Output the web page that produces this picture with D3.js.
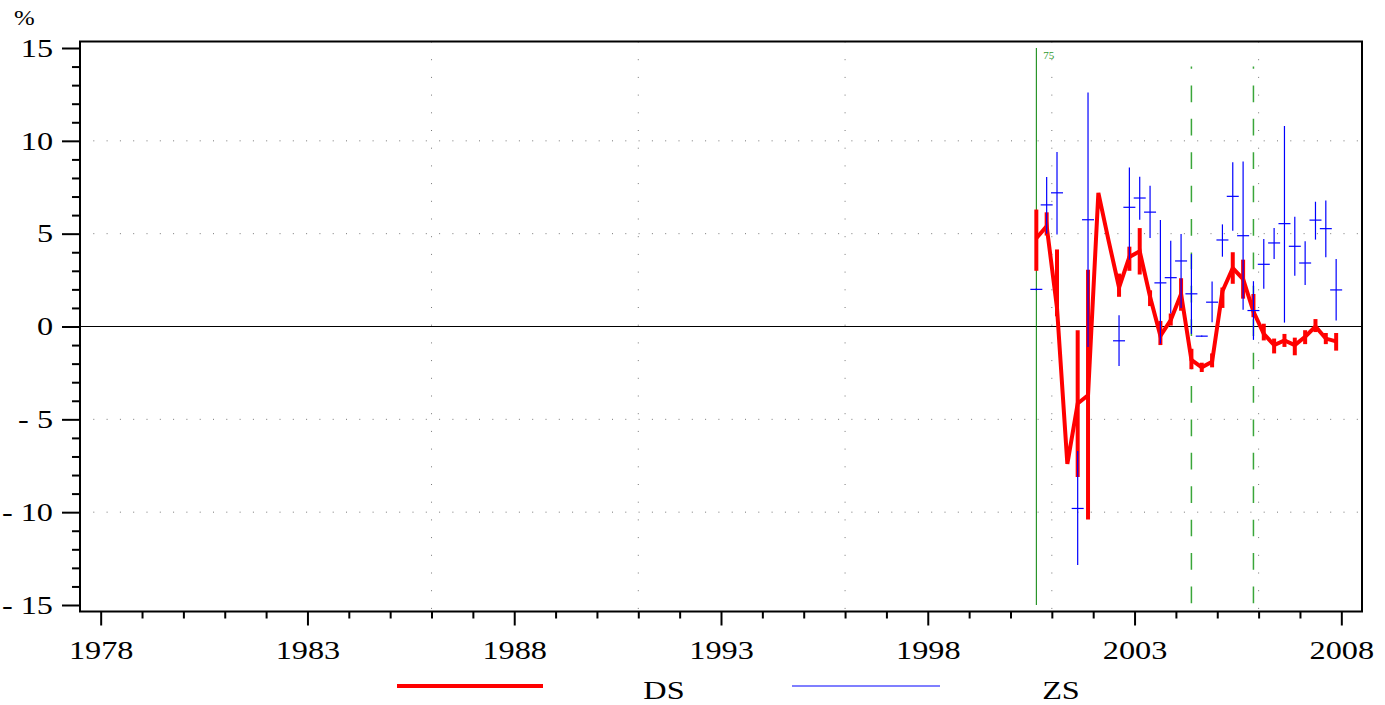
<!DOCTYPE html>
<html><head><meta charset="utf-8">
<script src="https://cdn.jsdelivr.net/npm/d3@7"></script>
<style>body{margin:0;background:#fff}svg{display:block}</style>
</head><body>
<svg id="c" width="1385" height="705"></svg>
<script>
// ---------- data ----------
const periods = ["2000Q3","2000Q4","2001Q1","2001Q2","2001Q3","2001Q4","2002Q1","2002Q2",
  "2002Q3","2002Q4","2003Q1","2003Q2","2003Q3","2003Q4","2004Q1","2004Q2",
  "2004Q3","2004Q4","2005Q1","2005Q2","2005Q3","2005Q4","2006Q1","2006Q2",
  "2006Q3","2006Q4","2007Q1","2007Q2","2007Q3","2007Q4"];
const dsValue = [4.75,5.4,1.0,-7.4,-4.15,-3.7,7.2,4.6,2.1,3.75,4.05,1.6,-0.5,0.35,1.75,-1.8,
  -2.2,-1.9,1.9,3.15,2.55,0.8,-0.4,-1.0,-0.75,-1.0,-0.55,0.0,-0.65,-0.8];
const dsLow = [3.0,4.9,0.55,null,-8.1,-10.4,null,null,1.6,3.0,2.8,1.1,-1.0,0.05,0.85,-2.3,
  -2.45,-2.2,1.0,2.3,1.5,0.5,-0.75,-1.45,-1.1,-1.55,-0.95,-0.3,-0.95,-1.3];
const dsHigh = [6.3,6.15,4.15,null,-0.2,3.05,null,null,2.85,4.3,5.3,1.95,0.3,0.7,2.6,-1.2,
  -1.95,-1.45,2.1,4.0,3.6,1.75,0.15,-0.65,-0.4,-0.6,-0.2,0.4,-0.35,-0.35];
const zsValue = [2.0,6.55,7.2,null,-9.8,5.75,null,null,-0.77,6.42,6.92,6.16,2.35,2.63,3.53,1.76,
  -0.52,1.31,4.66,7.01,4.89,0.86,3.35,4.5,5.54,4.32,3.42,5.73,5.27,1.97];
const zsLow = [1.95,5.0,4.95,null,-12.85,-1.1,null,null,-2.13,3.6,5.75,4.77,-0.93,0.7,1.0,-0.4,
  -0.55,0.23,3.76,5.16,0.9,-0.72,2.03,3.64,0.21,2.74,2.24,4.68,3.73,0.32];
const zsHigh = [2.05,8.05,9.4,null,-6.7,12.6,null,null,0.6,8.57,8.06,7.58,5.73,4.62,4.98,3.9,
  -0.49,2.42,5.5,8.84,8.89,2.44,4.71,5.31,10.8,5.91,4.59,6.72,6.79,3.64];
const yTicks = [-15,-10,-5,0,5,10,15];
const yGrid = [-10,-5,5,10];
const xTicks = [1978,1983,1988,1993,1998,2003,2008];
const xGrid = [1986,1991,1996,2001,2006];
const solidMarker = {period:"2000Q3", label:"75"};
const dashedMarkers = ["2004Q2","2005Q4"];
const seriesNames = ["DS","ZS"];

// ---------- helpers ----------
const toYear = p => +p.slice(0,4) + (+p.slice(5)-1)*0.25 + 0.125;
const svg = d3.select("#c");
const L=80, R=1362, T=41.5, B=611.5;
const x = d3.scaleLinear().domain([1977.5,2008.5]).range([L,R]);
const y = d3.scaleLinear().domain([-15.35,15.35]).range([B,T]);
const FONT = "'Liberation Serif','Times New Roman',serif";
const STRETCH = 1.24;
function stretch(sel){
  sel.each(function(){
    const w = this.getComputedTextLength();
    if (w>0) { d3.select(this).attr("textLength", w*STRETCH).attr("lengthAdjust","spacingAndGlyphs"); }
  });
}

// grid
svg.append("g").selectAll("line").data(yGrid).join("line")
  .attr("x1",L).attr("x2",R).attr("y1",d=>y(d)).attr("y2",d=>y(d))
  .attr("stroke","#777").attr("stroke-width",1).attr("stroke-dasharray","1,12.3");
svg.append("g").selectAll("line").data(xGrid).join("line")
  .attr("x1",d=>x(d)).attr("x2",d=>x(d)).attr("y1",T).attr("y2",B)
  .attr("stroke","#777").attr("stroke-width",1).attr("stroke-dasharray","1,16.7");
// zero line
svg.append("line").attr("x1",L).attr("x2",R).attr("y1",y(0)).attr("y2",y(0))
  .attr("stroke","#000").attr("stroke-width",1);

// markers
const mx = x(toYear(solidMarker.period));
svg.append("line").attr("x1",mx).attr("x2",mx).attr("y1",y(15)).attr("y2",y(-15))
  .attr("stroke","#008000").attr("stroke-width",1);
svg.append("text").attr("x",mx+7).attr("y",y(15)+11).text(solidMarker.label)
  .attr("fill","#2e9a2e").attr("font-family",FONT).attr("font-size",11);
svg.append("g").selectAll("line").data(dashedMarkers).join("line")
  .attr("x1",d=>x(toYear(d))).attr("x2",d=>x(toYear(d))).attr("y1",y(14)).attr("y2",y(-15))
  .attr("stroke","#3aa63a").attr("stroke-width",1.5)
  .attr("stroke-dasharray","16.7,16.7").attr("stroke-dashoffset",14.5);

// DS series
const ds = periods.map((p,i)=>({t:toYear(p),v:dsValue[i],lo:dsLow[i],hi:dsHigh[i]}));
svg.append("path").datum(ds)
  .attr("d",d3.line().x(d=>x(d.t)).y(d=>y(d.v)))
  .attr("fill","none").attr("stroke","#ff0000").attr("stroke-width",4);
svg.append("g").selectAll("line").data(ds.filter(d=>d.lo!=null)).join("line")
  .attr("x1",d=>x(d.t)).attr("x2",d=>x(d.t)).attr("y1",d=>y(d.lo)).attr("y2",d=>y(d.hi))
  .attr("stroke","#ff0000").attr("stroke-width",4);

// ZS series
const zs = periods.map((p,i)=>({t:toYear(p),v:zsValue[i],lo:zsLow[i],hi:zsHigh[i]})).filter(d=>d.v!=null);
const zg = svg.append("g").attr("stroke","#0000ff").attr("stroke-width",1.2);
zg.selectAll("line.v").data(zs).join("line").attr("class","v")
  .attr("x1",d=>x(d.t)).attr("x2",d=>x(d.t)).attr("y1",d=>y(d.lo)).attr("y2",d=>y(d.hi));
zg.selectAll("line.h").data(zs).join("line").attr("class","h")
  .attr("x1",d=>x(d.t)-6).attr("x2",d=>x(d.t)+6).attr("y1",d=>y(d.v)).attr("y2",d=>y(d.v));

// axes
const fmtY = d => d<0 ? "- " + Math.abs(d) : String(d);
const yAx = svg.append("g").attr("transform",`translate(${L},0)`)
  .call(d3.axisLeft(y).tickValues(yTicks).tickSize(18).tickPadding(9).tickFormat(fmtY));
const yMin = svg.append("g").attr("transform",`translate(${L},0)`)
  .call(d3.axisLeft(y).tickValues(d3.range(-15,16).filter(v=>v%5!==0)).tickSize(8).tickFormat(""));
const xAx = svg.append("g").attr("transform",`translate(0,${B})`)
  .call(d3.axisBottom(x).tickValues(xTicks).tickSize(14).tickPadding(15).tickFormat(d3.format("d")));
const xMin = svg.append("g").attr("transform",`translate(0,${B})`)
  .call(d3.axisBottom(x).tickValues(d3.range(1978,2009).filter(v=>(v-1978)%5!==0)).tickSize(7).tickFormat(""));
[yAx,yMin,xAx,xMin].forEach(g=>{
  g.select(".domain").remove();
  g.selectAll(".tick line").attr("stroke","#000").attr("stroke-width",2);
  g.selectAll("text").attr("font-family",FONT).attr("font-size",26).attr("fill","#000");
});
stretch(yAx.selectAll("text"));
stretch(xAx.selectAll("text"));
// frame
svg.append("rect").attr("x",L).attr("y",T).attr("width",R-L).attr("height",B-T)
  .attr("fill","none").attr("stroke","#000").attr("stroke-width",2);

svg.append("text").attr("x",14).attr("y",25).text("%")
  .attr("font-family",FONT).attr("font-size",20).call(stretch);

// legend
const lg = svg.append("g");
lg.append("line").attr("x1",397).attr("x2",543).attr("y1",686).attr("y2",686)
  .attr("stroke","#ff0000").attr("stroke-width",4);
lg.append("text").attr("x",664).attr("y",699).attr("text-anchor","middle").text(seriesNames[0])
  .attr("font-family",FONT).attr("font-size",26).call(stretch);
lg.append("line").attr("x1",792).attr("x2",940).attr("y1",686).attr("y2",686)
  .attr("stroke","#0000ff").attr("stroke-width",1.2);
lg.append("text").attr("x",1061).attr("y",699).attr("text-anchor","middle").text(seriesNames[1])
  .attr("font-family",FONT).attr("font-size",26).call(stretch);
</script>
</body></html>
